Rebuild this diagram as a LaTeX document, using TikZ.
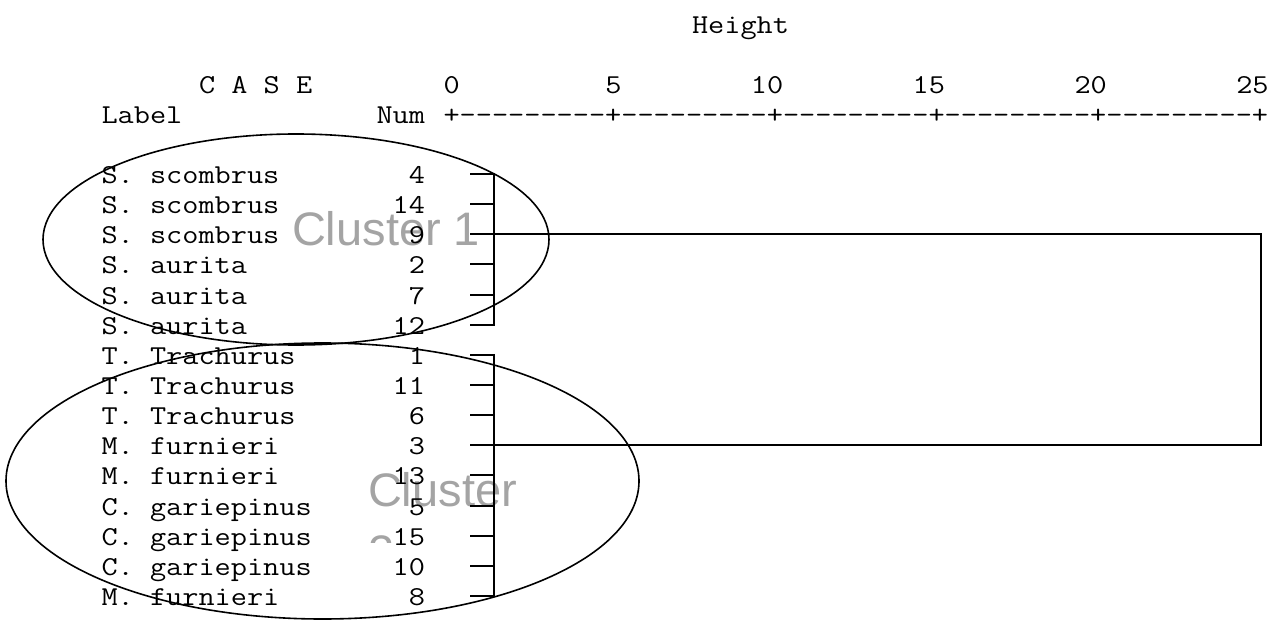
\documentclass[tikz,border=0pt]{standalone}
\usepackage{fontspec}
\newfontfamily\clusterfont{Liberation Sans}
\definecolor{clustergray}{RGB}{164,164,164}
\newcommand\mono[1]{\scalebox{1.15}[1]{\fontsize{27.3}{30}\selectfont\ttfamily #1}}
\newcommand\nd{-{}-{}-{}-{}-{}-{}-{}-{}-{}}
\tikzset{
  mtext/.style={inner sep=0pt, outer sep=0pt, anchor=base west},
  mnum/.style={inner sep=0pt, outer sep=0pt, anchor=base east},
  clabel/.style={inner sep=0pt, outer sep=0pt, anchor=base west, text=clustergray,
    font=\clusterfont\fontsize{47}{54}\selectfont},
  hline/.style={line width=2pt, black},
  vline/.style={line width=2.5pt, black},
  ring/.style={line width=1.6pt, black},
}
\begin{document}
\begin{tikzpicture}[x=1pt,y=-1pt]
\path[fill=white] (0,0) rectangle (1271,620);
\useasboundingbox (0,0) rectangle (1271,620);

% cluster labels (behind)
\node[clabel] (c1) at (292,246) {Cluster 1};
\node[clabel] (c2) at (368,506) {Cluster};
\begin{scope}
  \clip (300,520) rectangle (500,542);
  \node[clabel] (c2b) at (368,568) {2};
\end{scope}

% header
\node[mtext] (height) at (692,34) {\mono{Height}};
\node[mtext] (case) at (199,94) {\mono{C A S E}};
\node[mtext] (h0) at (443.5,94) {\mono{0}};
\node[mtext] (h5) at (605.3,94) {\mono{5}};
\node[mtext] (h10) at (750.9,94) {\mono{10}};
\node[mtext] (h15) at (912.7,94) {\mono{15}};
\node[mtext] (h20) at (1074.5,94) {\mono{20}};
\node[mtext] (h25) at (1236.3,94) {\mono{25}};
\node[mtext] (label) at (101.5,124) {\mono{Label}};
\node[mnum] (num) at (425,124) {\mono{Num}};
\node[mtext] (ruler) at (443.5,124) {\mono{+\nd+\nd+\nd+\nd+\nd+}};

% rows
\foreach \k/\lab/\n in {0/S. scombrus/4, 1/S. scombrus/14, 2/S. scombrus/9,
  3/S. aurita/2, 4/S. aurita/7, 5/S. aurita/12,
  6/T. Trachurus/1, 7/T. Trachurus/11, 8/T. Trachurus/6,
  9/M. furnieri/3, 10/M. furnieri/13, 11/C. gariepinus/5,
  12/C. gariepinus/15, 13/C. gariepinus/10, 14/M. furnieri/8}{
  \pgfmathsetmacro\yy{174+30.14*\k}
  \pgfmathsetmacro\yb{\yy+9.5}
  \node[mtext] (lab\k) at (101.5,\yb) {\mono{\lab}};
  \node[mnum] (num\k) at (425,\yb) {\mono{\n}};
  \coordinate (t\k) at (470,\yy);
  \coordinate (j\k) at (494,\yy);
  \coordinate (r\k) at (1261,\yy);
}

% dendrogram
\foreach \k in {1,2,3,4,7,8,9,10,11,12,13}{
  \draw[hline] (t\k) -- (j\k);
}
\draw[hline] (t0) -- (j0);
\draw[hline] (t5) -- (j5);
\draw[hline] (t6) -- (j6);
\draw[hline] (t14) -- (j14);
\draw[vline] ([yshift=1pt]j0) -- ([yshift=-1pt]j5);
\draw[vline] ([yshift=1pt]j6) -- ([yshift=-1pt]j14);
\draw[hline] (j2) -- (r2);
\draw[hline] (j9) -- (r9);
\draw[vline] ([yshift=1pt]r2) -- ([yshift=-1pt]r9);

% ellipses
\draw[ring] (296,239.5) ellipse [x radius=253pt, y radius=105.5pt];
\draw[ring] (322.5,481) ellipse [x radius=316.5pt, y radius=138pt];
\end{tikzpicture}
\end{document}
